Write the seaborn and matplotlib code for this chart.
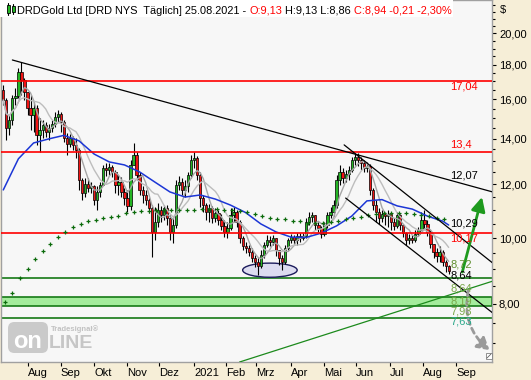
import numpy as np
import pandas as pd
import matplotlib
matplotlib.use("Agg")
import matplotlib.pyplot as plt
import seaborn as sns
from matplotlib.patches import Rectangle, Ellipse, FancyBboxPatch
from matplotlib.ticker import FixedLocator, FuncFormatter, NullFormatter

# ---------------- data ----------------
first_date = "2020-07-09"          # one candle every 2 business days
first_open = 16.52
close = [15.96, 14.52, 14.92, 16.07, 16.18, 17.55, 17.08, 16.40, 15.54, 15.17,
         15.54, 14.18, 14.42, 14.67, 14.32, 14.52, 14.72, 15.07, 15.22, 14.82,
         14.04, 13.75, 14.04, 13.71, 13.48, 12.17, 11.65, 12.01, 11.85, 11.93,
         11.37, 11.69, 11.97, 12.68, 12.59, 12.72, 12.51, 11.97, 12.09, 11.69,
         11.45, 11.15, 12.81, 13.25, 12.38, 11.77, 11.57, 11.37, 11.07, 10.21,
         10.56, 11.00, 10.81, 11.07, 10.70, 10.21, 10.45, 11.97, 12.09, 11.77,
         11.93, 12.38, 13.03, 13.12, 12.38, 11.45, 11.18, 10.92, 11.07, 10.70,
         10.88, 10.63, 10.42, 10.21, 10.35, 10.81, 10.92, 10.56, 10.00, 9.73,
         9.67, 9.54, 9.34, 9.22, 9.09, 9.44, 9.77, 9.93, 9.86, 10.00,
         9.60, 9.34, 9.22, 9.67, 9.93, 10.03, 9.93, 10.07, 10.00, 10.07,
         10.56, 10.74, 10.81, 10.45, 10.35, 10.14, 10.45, 10.81, 10.92, 11.18,
         12.17, 12.51, 12.26, 12.42, 12.59, 13.03, 13.16, 13.03, 12.90, 12.68,
         12.77, 11.77, 11.18, 10.92, 10.70, 10.85, 10.77, 10.85, 10.56, 10.42,
         10.81, 10.45, 10.17, 9.93, 10.00, 9.93, 10.14, 10.27, 10.63, 10.49,
         10.21, 9.80, 9.54, 9.41, 9.54, 9.22, 9.09, 8.94]
high = [16.80, 16.07, 15.17, 16.24, 16.63, 17.80, 18.16, 17.20, 16.40, 16.24,
        15.86, 15.70, 15.02, 14.92, 14.82, 14.72, 14.92, 15.33, 15.43, 15.33,
        14.92, 14.28, 14.23, 14.13, 14.04, 13.57, 12.26, 12.26, 12.26, 12.09,
        11.97, 11.93, 12.09, 12.81, 12.90, 12.90, 12.81, 12.59, 12.38, 12.30,
        11.85, 11.77, 13.03, 13.80, 13.38, 12.51, 11.93, 11.77, 11.45, 11.18,
        11.11, 11.26, 11.15, 11.18, 11.18, 10.81, 10.70, 12.17, 12.34, 12.26,
        12.17, 12.51, 13.25, 13.38, 13.20, 12.51, 11.57, 11.26, 11.22, 11.15,
        11.07, 11.00, 10.85, 10.63, 10.56, 11.07, 11.11, 11.00, 10.63, 10.07,
        9.86, 9.77, 9.67, 9.44, 9.34, 9.60, 9.86, 10.10, 10.07, 10.10,
        10.00, 9.60, 9.44, 9.77, 10.00, 10.14, 10.10, 10.17, 10.17, 10.17,
        10.70, 10.92, 10.92, 10.81, 10.56, 10.42, 10.56, 10.92, 11.11, 11.37,
        12.38, 12.81, 12.68, 12.59, 12.77, 13.16, 13.34, 13.34, 13.16, 13.03,
        12.94, 12.85, 11.85, 11.37, 11.07, 11.00, 10.92, 11.00, 10.85, 10.70,
        10.92, 10.85, 10.49, 10.21, 10.14, 10.10, 10.27, 10.38, 10.92, 11.00,
        10.63, 10.27, 9.80, 9.67, 9.73, 9.60, 9.28, 9.13]
low = [15.70, 13.94, 14.18, 14.67, 15.70, 16.07, 16.24, 15.96, 15.17, 14.42,
       14.32, 13.71, 13.38, 14.04, 14.08, 13.94, 14.32, 14.57, 14.82, 14.32,
       13.85, 13.25, 13.61, 13.48, 13.12, 11.77, 11.37, 11.49, 11.69, 11.65,
       11.18, 11.00, 11.49, 11.97, 12.34, 12.38, 12.30, 11.65, 11.57, 11.49,
       11.18, 10.92, 11.00, 12.81, 12.17, 11.57, 11.26, 11.18, 10.88, 9.38,
       9.93, 10.38, 10.56, 10.63, 10.45, 9.93, 9.83, 10.35, 11.77, 11.57,
       11.49, 11.69, 12.26, 12.68, 12.17, 11.11, 10.92, 10.63, 10.56, 10.52,
       10.56, 10.45, 10.27, 10.03, 10.00, 10.27, 10.56, 10.38, 9.83, 9.60,
       9.50, 9.41, 9.22, 9.06, 8.82, 9.03, 9.34, 9.70, 9.73, 9.77,
       9.41, 9.13, 8.97, 9.16, 9.60, 9.83, 9.80, 9.77, 9.86, 9.93,
       10.00, 10.45, 10.56, 10.27, 10.21, 10.00, 10.07, 10.35, 10.70, 10.77,
       11.07, 11.97, 12.05, 12.09, 12.17, 12.51, 12.81, 12.77, 12.59, 12.51,
       12.51, 11.57, 11.00, 10.56, 10.49, 10.56, 10.45, 10.38, 10.27, 10.27,
       10.35, 10.27, 10.03, 9.77, 9.80, 9.83, 9.86, 10.07, 10.27, 10.35,
       10.07, 9.67, 9.34, 9.22, 9.22, 9.09, 8.91, 8.86]

# blue moving average, read at every 5th candle (+ last)
blue_idx = list(range(0, 146, 5)) + [147]
blue_ma = [11.77, 13.08, 13.80, 13.99, 14.16, 13.90, 13.29, 12.94, 12.81, 12.51,
           12.09, 11.69, 11.49, 11.57, 11.41, 11.18, 10.90, 10.49, 10.21, 10.03,
           10.02, 10.17, 10.42, 10.77, 11.34, 11.39, 11.15, 11.03, 10.77, 10.59, 10.45]

# long moving average drawn as weekly green crosses
ma_long_start = "2020-07-10"
ma_long = [8.05, 8.30, 8.73, 9.00, 9.31, 9.57, 9.80, 10.03, 10.21, 10.38,
           10.49, 10.59, 10.63, 10.70, 10.74, 10.79, 10.87, 10.92, 10.96, 10.96,
           10.98, 11.00, 11.00, 11.00, 11.00, 11.00, 11.03, 11.03, 11.03, 11.00,
           11.00, 10.96, 10.92, 10.85, 10.76, 10.70, 10.66, 10.65, 10.61, 10.58,
           10.52, 10.52, 10.52, 10.56, 10.59, 10.65, 10.70, 10.74, 10.81, 10.85,
           10.88, 10.88, 10.88, 10.87, 10.83, 10.81, 10.76, 10.72, 10.66]

red_levels = [17.04, 13.40, 10.17]
green_levels = [8.72, 7.63]
green_band = [7.93, 8.19]

month_labels = ["Aug", "Sep", "Okt", "Nov", "Dez", "2021", "Feb", "Mrz",
                "Apr", "Mai", "Jun", "Jul", "Aug", "Sep"]
y_major = [8, 10, 12, 14, 16, 18, 20]

# drawn trend lines (date, price) pairs
trend_down = (["2020-07-17", "2021-10-05"], [18.28, 11.69])
chan_upper = (["2021-05-20", "2021-10-05"], [13.71, 9.19])
chan_lower = (["2021-05-21", "2021-10-05"], [11.45, 7.76])
trend_green = (["2021-02-12", "2021-10-05"], [6.57, 8.64])

title_parts = [("DRDGold Ltd [DRD NYS  Täglich] 25.08.2021 -", "black"),
               ("O:9,13", "#ff0000"), ("H:9,13 L:8,86", "black"),
               ("C:8,94 -0,21 -2,30%", "#ff0000")]

# ---------------- figure ----------------
sns.set_theme(style="white")
plt.rcParams["font.family"] = ["Liberation Sans", "DejaVu Sans"]

W, H = 531, 380
BEIGE = "#f6eed7"
fig = plt.figure(figsize=(W / 100, H / 100), dpi=100)
fig.patch.set_facecolor(BEIGE)
ax = fig.add_axes([1 / W, 18 / H, 491 / W, 362 / H])
ax.set_facecolor("#f7f7f7")
ax.set_yscale("log")

REF = np.datetime64("2020-08-03")


def bd(d):
    return float(np.busday_count(REF, np.datetime64(str(d)[:10], "D")))


dates = pd.bdate_range(first_date, periods=len(close), freq="2B")
x = np.busday_count(REF, dates.values.astype("datetime64[D]")).astype(float)
c = np.array(close)
h = np.array(high)
l = np.array(low)
o = np.concatenate([[first_open], c[:-1]])
up = c >= o

# levels / band
ax.axhspan(green_band[0], green_band[1], facecolor="#a4ec9c", edgecolor="#167a16",
           lw=1.2, zorder=1)
for v in green_levels:
    ax.axhline(v, color="#167a16", lw=1.2, zorder=1.2)

# ellipse marking the low
ell = Ellipse((bd("2021-03-12"), 8.97), 36, 0.43, facecolor="#dcdcf0",
              edgecolor="#1c1c5c", lw=1.0, zorder=1.5)
ax.add_patch(ell)

# candles
ax.vlines(x, l, h, color="black", lw=0.8, zorder=3)
lo_b = np.minimum(o, c)
hi_b = np.maximum(np.maximum(o, c), lo_b * 1.004)
ax.bar(x, hi_b - lo_b, bottom=lo_b, width=1.5,
       color=np.where(up, "#25b525", "#f01414"), edgecolor="black",
       linewidth=0.5, zorder=3.5)

# moving averages
df = pd.DataFrame({"x": x, "close": c})
df["ma_fast"] = df["close"].rolling(5, min_periods=1).mean()
df["ma_slow"] = df["close"].rolling(10, min_periods=1).mean()
sns.lineplot(data=df, x="x", y="ma_fast", ax=ax, color="#a6a6a6", lw=1.0, zorder=4)
sns.lineplot(data=df, x="x", y="ma_slow", ax=ax, color="#bdbdbd", lw=1.0, zorder=4)
sns.lineplot(x=x[blue_idx], y=blue_ma, ax=ax, color="#1c36d6", lw=1.1, zorder=4.2)

ma_dates = pd.date_range(ma_long_start, periods=len(ma_long), freq="7D")
mx = np.busday_count(REF, ma_dates.values.astype("datetime64[D]")).astype(float)
ax.scatter(mx, ma_long, marker="+", color="#0b6b0b", s=8, linewidths=0.9, zorder=4.5)

for v in red_levels:
    ax.axhline(v, color="#ff0000", lw=1.2, zorder=4.3)

# trend lines
for (dd, pp), col in [(trend_down, "black"), (chan_upper, "black"),
                      (chan_lower, "black"), (trend_green, "#1c8a1c")]:
    ax.plot([bd(d) for d in dd], pp, color=col, lw=0.9, zorder=5)

# arrows
ax.annotate("", xy=(bd("2021-09-24"), 11.49), xytext=(bd("2021-09-07"), 8.91),
            arrowprops=dict(arrowstyle="-|>,head_length=0.7,head_width=0.35",
                            color="#1e9a1e", lw=2, shrinkA=0, shrinkB=0), zorder=6)
ax.annotate("", xy=(bd("2021-10-01"), 6.84), xytext=(bd("2021-09-13"), 8.38),
            arrowprops=dict(arrowstyle="-|>,head_length=0.6,head_width=0.35",
                            color="#9a9a9a", lw=2, linestyle=(0, (2, 1.5)),
                            connectionstyle="arc3,rad=0.3", shrinkA=0, shrinkB=0),
            zorder=6)

# right-hand value labels
xl = x[-1] + 1
labels = [("17,04", 16.69, "#ff0000"), ("13,4", 13.75, "#ff0000"),
          ("12,07", 12.38, "black"), ("10,29", 10.52, "black"),
          ("10,17", 10.00, "#ff0000"), ("8,72", 9.13, "#5f8f2f"),
          ("8,64", 8.80, "black"), ("8,64", 8.44, "#7aa84a"),
          ("8,19", 8.07, "#7aa84a"), ("7,93", 7.80, "#7aa84a"),
          ("7,63", 7.54, "#2aa88a")]
for t, p, col in labels:
    ax.text(xl, p, t, color=col, fontsize=8, va="center", ha="left", zorder=7)

# axes, ticks
ax.set_xlim(bd("2020-07-08") - 0.5, bd("2021-10-04") + 0.6)
ax.set_ylim(6.57, 22.4)
ax.yaxis.tick_right()
ax.yaxis.set_major_locator(FixedLocator(y_major))
ax.yaxis.set_minor_locator(FixedLocator([v for v in np.arange(6.5, 22.6, 0.5)
                                         if v not in y_major]))
ax.yaxis.set_major_formatter(FuncFormatter(lambda v, p: f"{v:.2f}".replace(".", ",")))
ax.yaxis.set_minor_formatter(NullFormatter())
ax.tick_params(axis="y", which="major", length=3, width=0.8, color="black",
               pad=2, labelsize=8, labelcolor="black", right=True, left=False)
ax.tick_params(axis="y", which="minor", length=2, width=0.8, color="black",
               right=True, left=False)
month_starts = pd.date_range("2020-08-01", periods=len(month_labels), freq="MS")
xt = np.busday_count(REF, month_starts.values.astype("datetime64[D]")).astype(float)
ax.set_xticks(xt)
ax.set_xticklabels(month_labels, ha="left", fontsize=8, color="black")
ax.tick_params(axis="x", which="major", length=3, width=0.8, color="black",
               pad=1, bottom=True, direction="out")
ax.set_xlabel("")
ax.set_ylabel("")
for s in ax.spines.values():
    s.set_color("#a0a0a0")
    s.set_linewidth(1.0)
ax.grid(False)


def F(px, py):
    return (px / W, 1 - py / H)


# title box
fig.add_artist(Rectangle(F(0, 17), 453 / W, 17 / H, transform=fig.transFigure,
                         facecolor="white", edgecolor="none", zorder=8))
fig.canvas.draw()
renderer = fig.canvas.get_renderer()
xpos = 17.0
for s, col in title_parts:
    t = fig.text(*F(xpos, 10.5), s, color=col, fontsize=7.9, va="center",
                 ha="left", zorder=9)
    xpos += t.get_window_extent(renderer).width + 3.0

# small candle icon in title
for (x0, y0, y1, w0, w1) in [(7, 5, 13, 3, 15), (12, 6, 12, 4, 14)]:
    fig.add_artist(plt.Line2D([(x0 + 1) / W] * 2, [1 - w0 / H, 1 - w1 / H],
                              transform=fig.transFigure, color="black", lw=0.8, zorder=9))
    fig.add_artist(Rectangle(F(x0, y1), 2.5 / W, (y1 - y0) / H, transform=fig.transFigure,
                             facecolor="#25b525", edgecolor="black", lw=0.6, zorder=10))

fig.text(*F(500, 10), "$", fontsize=8, color="black", va="center", ha="left")

# watermark logo
fig.add_artist(FancyBboxPatch(F(8, 353), 40 / W, 31 / H,
                              boxstyle="round,pad=0,rounding_size=0.012",
                              mutation_aspect=W / H, transform=fig.transFigure,
                              facecolor="#cacaca", edgecolor="none", zorder=8))
fig.text(*F(28, 342), "on", fontsize=17, fontweight="bold", color="white",
         ha="center", va="center", zorder=9)
fig.text(*F(49, 343), "LINE", fontsize=14, fontweight="bold", color="#c6c6c6",
         ha="left", va="center", zorder=9)
fig.text(*F(51, 329.5), "Tradesignal®", fontsize=5.5, fontweight="bold",
         color="#c2c2c2", ha="left", va="center", zorder=9)

# resize glyph bottom-right
fig.add_artist(Rectangle(F(486, 359), 6 / W, 6 / H, transform=fig.transFigure,
                         facecolor="white", edgecolor="#808080", lw=0.6, zorder=9))
fig.add_artist(plt.Line2D([487 / W, 491 / W], [1 - 358 / H, 1 - 354 / H],
                          transform=fig.transFigure, color="#606060", lw=0.6, zorder=10))

fig.savefig("out.png", dpi=100, facecolor=fig.get_facecolor())
